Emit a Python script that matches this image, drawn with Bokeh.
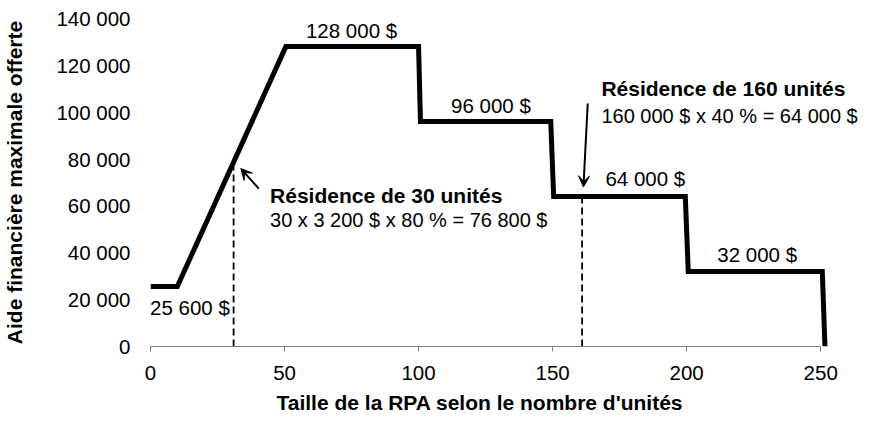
from bokeh.plotting import figure
from bokeh.models import Range1d, FixedTicker, Arrow, VeeHead, Title
from bokeh.core.properties import value
from bokeh.embed import file_html
from bokeh.resources import INLINE

# ---- data ----
units = [0, 10, 50.5, 100, 100.7, 149.3, 150.4, 199.5, 200.6, 250.6, 251.6]
aid = [25600, 25600, 128000, 128000, 96000, 96000, 64000, 64000, 32000, 32000, 0]

x_ticks = [0, 50, 100, 150, 200, 250]
y_ticks = [0, 20000, 40000, 60000, 80000, 100000, 120000, 140000]
y_tick_labels = ["0", "20 000", "40 000", "60 000", "80 000", "100 000", "120 000", "140 000"]

x_title = "Taille de la RPA selon le nombre d'unités"
y_title = "Aide financière maximale offerte"

step_labels = ["128 000 $", "96 000 $", "64 000 $", "32 000 $", "25 600 $"]
step_label_x = [75, 127, 184.6, 226.3, 14.7]
step_label_y = [131600, 99450, 68400, 36000, 13250]

note_titles = ["Résidence de 30 unités", "Résidence de 160 unités"]
note_lines = ["30 x 3 200 $ x 80 % = 76 800 $", "160 000 $ x 40 % = 64 000 $"]
note_x = [44.6, 168.2]
note_title_y = [61000, 106850]
note_line_y = [50560, 95180]

example_units = [31, 161]
example_aid = [76800, 64000]

arrow_start_x = [40.4, 163.1]
arrow_start_y = [67400, 103700]
arrow_end_x = [33.7, 161.5]
arrow_end_y = [75950, 68100]

FONT = "Liberation Sans"
TXT_SHIFT = -8  # screen px: compensates the glyph baseline placement

p = figure(width=862, height=424, output_backend="svg", toolbar_location=None,
           x_range=Range1d(0, 265.6), y_range=Range1d(0, 140000),
           min_border_left=143, min_border_right=0, min_border_top=18, min_border_bottom=78)
p.outline_line_color = None
p.xgrid.visible = False
p.ygrid.visible = False
p.background_fill_color = "white"
p.border_fill_color = "white"

# axes
xa = p.xaxis[0]
xa.ticker = FixedTicker(ticks=x_ticks)
xa.bounds = (0, 250)
xa.axis_line_color = "#7f7f7f"
xa.major_tick_line_color = "#7f7f7f"
xa.major_tick_in = 0
xa.major_tick_out = 5
xa.minor_tick_line_color = None
xa.major_label_standoff = 14
xa.major_label_text_font = FONT
xa.major_label_text_font_size = "20.5px"
xa.major_label_text_color = "black"

ya = p.yaxis[0]
ya.ticker = FixedTicker(ticks=y_ticks)
ya.major_label_overrides = dict(zip(y_ticks, y_tick_labels))
ya.axis_line_color = None
ya.major_tick_line_color = None
ya.minor_tick_line_color = None
ya.major_tick_in = 0
ya.major_tick_out = 0
ya.major_label_standoff = 20
ya.major_label_text_font = FONT
ya.major_label_text_font_size = "20.5px"
ya.major_label_text_color = "black"
ya.axis_label = y_title
ya.axis_label_text_font = FONT
ya.axis_label_text_font_size = "21px"
ya.axis_label_text_font_style = "bold"
ya.axis_label_text_color = "black"
ya.axis_label_standoff = 27

# x-axis title, placed under the 0-250 axis
p.add_layout(Title(text=x_title, text_font=FONT, text_font_size="21px", text_font_style="bold",
                   text_color="black", align="left", offset=126, standoff=12), "below")

# dashed example lines
for ux, ay in zip(example_units, example_aid):
    p.line([ux, ux], [0, ay], line_color="black", line_width=1.8, line_dash="7 4")

# main step line
p.line(units, aid, line_color="black", line_width=5, line_join="miter")

# step labels
p.text(x=step_label_x, y=step_label_y, text=step_labels, text_font=value(FONT), y_offset=TXT_SHIFT,
       text_font_size="20.5px", text_align="center", text_baseline="alphabetic", text_color="black")

# notes
p.text(x=note_x, y=note_title_y, text=note_titles, text_font=value(FONT), text_font_style="bold",
       y_offset=TXT_SHIFT, text_font_size="21px", text_align="left", text_baseline="alphabetic",
       text_color="black")
p.text(x=note_x, y=note_line_y, text=note_lines, text_font=value(FONT), y_offset=TXT_SHIFT,
       text_font_size="20px", text_align="left", text_baseline="alphabetic", text_color="black")

# arrows
for xs, ys, xe, ye in zip(arrow_start_x, arrow_start_y, arrow_end_x, arrow_end_y):
    p.add_layout(Arrow(x_start=xs, y_start=ys, x_end=xe, y_end=ye, line_width=2, line_color="black",
                       end=VeeHead(size=11, fill_color="black", line_color="black", line_width=1)))

open("out.html", "w").write(file_html(p, INLINE))
